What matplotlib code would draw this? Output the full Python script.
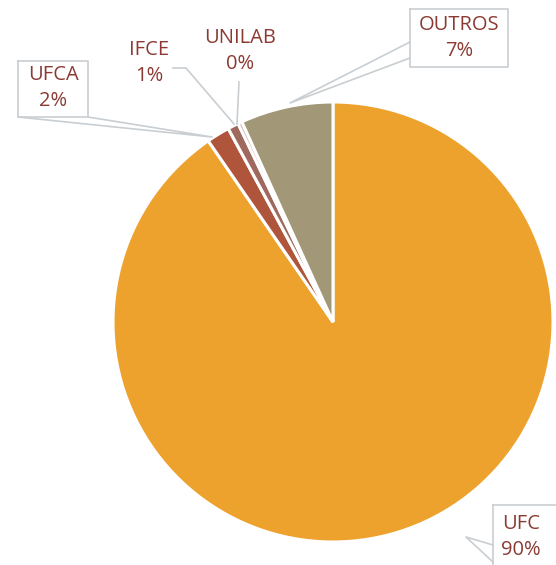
import matplotlib
matplotlib.use('Agg')
import matplotlib.pyplot as plt

# dados
labels = ['UFC', 'UFCA', 'IFCE', 'UNILAB', 'OUTROS']
values = [90.4, 1.7, 0.8, 0.3, 6.8]
colors = ['#EEA22E', '#AE553B', '#A0695E', '#D2A69A', '#A29776']

W, H = 556, 565
TXT = '#8B3A33'
BOX = '#C9CED2'


def py(y):
    # pixel (topo) -> coordenada do eixo
    return H - y


plt.rcParams['font.family'] = ['Open Sans', 'DejaVu Sans']

fig = plt.figure(figsize=(W / 100, H / 100), dpi=100)
ax = fig.add_axes([0, 0, 1, 1])
ax.set_xlim(0, W)
ax.set_ylim(0, H)
ax.set_aspect('equal')
ax.axis('off')

ax.pie(values, colors=colors, startangle=90, counterclock=False,
       center=(333, py(322)), radius=220,
       wedgeprops=dict(edgecolor='white', linewidth=2.2))
ax.set_xlim(0, W)
ax.set_ylim(0, H)

texts = [f'{n}\n{int(v + 0.5)}%' for n, v in zip(labels, values)]

# posições dos rótulos (px): x, y centro
pos = {
    'UFC': (521, 537),
    'UFCA': (53, 88),
    'IFCE': (149, 63),
    'UNILAB': (240, 51),
    'OUTROS': (459, 38),
}
for name, t in zip(labels, texts):
    x, y = pos[name]
    ax.text(x, py(y), t, ha='center', va='center', color=TXT,
            fontsize=14.5, linespacing=1.4)

# caixas e linhas de chamada
lw = 1.2
ax.plot([18, 88, 88, 18, 18], [py(61), py(61), py(117), py(117), py(61)],
        color=BOX, lw=lw)
ax.plot([18, 212, 88], [py(117), py(137), py(117)], color=BOX, lw=lw)

ax.plot([410, 508, 508, 410, 410], [py(9), py(9), py(67), py(67), py(9)],
        color=BOX, lw=lw)
ax.plot([410, 290, 410], [py(42), py(103), py(58)], color=BOX, lw=lw)

ax.plot([493, 570, 570, 493, 493], [py(505), py(505), py(580), py(580), py(505)],
        color=BOX, lw=lw, clip_on=False)
ax.plot([493, 466, 493], [py(545), py(537), py(562)], color=BOX, lw=lw)

ax.plot([173, 186, 234], [py(68), py(68), py(124)], color=BOX, lw=lw)
ax.plot([239, 237], [py(82), py(124)], color=BOX, lw=lw)

fig.savefig('out.png', dpi=100)
